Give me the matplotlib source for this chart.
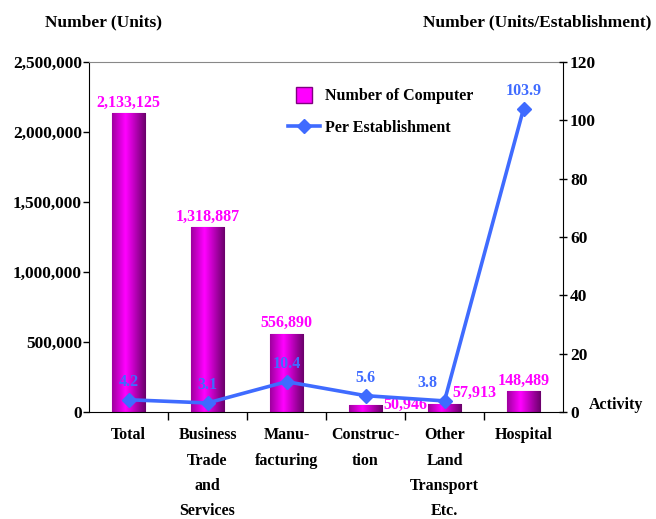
import matplotlib
matplotlib.use("Agg")
import matplotlib.pyplot as plt
import numpy as np
from matplotlib.ticker import FuncFormatter, MultipleLocator
from matplotlib.lines import Line2D
from matplotlib.colors import LinearSegmentedColormap

categories = ["Total", "Business\nTrade\nand\nServices", "Manu-\nfacturing",
              "Construc-\ntion", "Other\nLand\nTransport\nEtc.", "Hospital"]
computers = [2133125, 1318887, 556890, 50946, 57913, 148489]
per_est = [4.2, 3.1, 10.4, 5.6, 3.8, 103.9]

MAG = "#FF00FF"
BLUE = "#3F6BFF"
plt.rcParams['font.family'] = ['Liberation Serif', 'DejaVu Serif']
plt.rcParams['font.weight'] = 'bold'

fig = plt.figure(figsize=(6.56, 5.19), dpi=100)
ax = fig.add_axes([89/656, 1-412/519, (563-89)/656, (412-62)/519])
x = np.arange(len(categories))
bars = ax.bar(x, computers, width=0.42, color=MAG, edgecolor="#CC00CC", linewidth=0.8, zorder=2)

grad = np.concatenate([np.linspace(0.35, 1.0, 40), np.linspace(1.0, 0.0, 60)])
cmap = LinearSegmentedColormap.from_list("g", ["#6A006A", "#FF00FF"])
for b in bars:
    im = ax.imshow(grad[np.newaxis, :], cmap=cmap, vmin=0, vmax=1, aspect='auto',
                   extent=[b.get_x(), b.get_x()+b.get_width(), 0, b.get_height()], zorder=2.5)
    im.set_clip_path(b)

ax.set_xlim(-0.5, len(categories)-0.5)
ax.set_ylim(0, 2500000)
ax.yaxis.set_major_locator(MultipleLocator(500000))
ax.yaxis.set_major_formatter(FuncFormatter(lambda v, p: f"{int(v):,}"))
ax.set_xticks(x)
ax.set_xticklabels(categories, linespacing=1.78, fontsize=11.5, fontweight='bold', va='top')
ax.tick_params(axis='x', length=0, pad=11)
ax.set_xticks(np.arange(0.5, len(categories)-0.5, 1), minor=True)
ax.tick_params(axis='x', which='minor', length=6, direction='out', width=1)
ax.tick_params(axis='y', labelsize=12.5, direction='out', length=4, width=1, pad=1)
for lbl in ax.get_yticklabels():
    lbl.set_fontweight('bold')
ax.spines['top'].set_color('#888888')
ax.spines['right'].set_visible(False)
ax.set_facecolor('none')

# bar labels
for i, (b, v) in enumerate(zip(bars, computers)):
    cx = b.get_x() + b.get_width()/2
    if i == 3:
        ax.annotate(f"{v:,}", (b.get_x() + b.get_width(), v), xytext=(1, 0),
                    textcoords='offset points', ha='left', va='center',
                    color=MAG, fontsize=11.5, fontweight='bold', zorder=6)
    elif i == 4:
        ax.annotate(f"{v:,}", (cx, v), xytext=(6, 2), textcoords='offset points',
                    ha='left', va='bottom', color=MAG, fontsize=11.5, fontweight='bold', zorder=6)
    else:
        ax.annotate(f"{v:,}", (cx, v), xytext=(0, 2), textcoords='offset points',
                    ha='center', va='bottom', color=MAG, fontsize=11.5, fontweight='bold', zorder=6)

ax2 = ax.twinx()
ax2.set_ylim(0, 120)
ax2.yaxis.set_major_locator(MultipleLocator(20))
ax2.plot(x, per_est, color=BLUE, lw=2.6, marker='D', ms=7, zorder=5)
for sp in ['top', 'left', 'bottom']:
    ax2.spines[sp].set_visible(False)
ax2.tick_params(axis='y', labelsize=12.5, direction='inout', length=6, width=1, pad=2)
for lbl in ax2.get_yticklabels():
    lbl.set_fontweight('bold')
for i, v in enumerate(per_est):
    dx = -12 if i == 4 else 0
    ax2.annotate(f"{v}", (x[i], v), xytext=(dx, 7), textcoords='offset points',
                 ha='center', va='bottom', color=BLUE, fontsize=11.5, fontweight='bold', zorder=6)

fig.text(45/656, 1-22/519, "Number (Units)", fontsize=12.5, fontweight='bold', va='center')
fig.text(651/656, 1-22/519, "Number (Units/Establishment)", fontsize=12.5, fontweight='bold',
         va='center', ha='right')
fig.text(589/656, 1-405/519, "Activity", fontsize=11.5, fontweight='bold', va='center')

handles = [Line2D([], [], marker='s', ms=11, color=MAG, markeredgecolor="#800080", ls='none'),
           Line2D([], [], color=BLUE, lw=2.6, marker='D', ms=7)]
fig.legend(handles, ["Number of Computer", "Per Establishment"], loc='upper left',
           bbox_to_anchor=(274/656, 1-74/519), frameon=False,
           handlelength=1.95, handletextpad=0.35, labelspacing=0.95,
           prop={'weight': 'bold', 'size': 11.5})

fig.savefig("out.png", dpi=100)
